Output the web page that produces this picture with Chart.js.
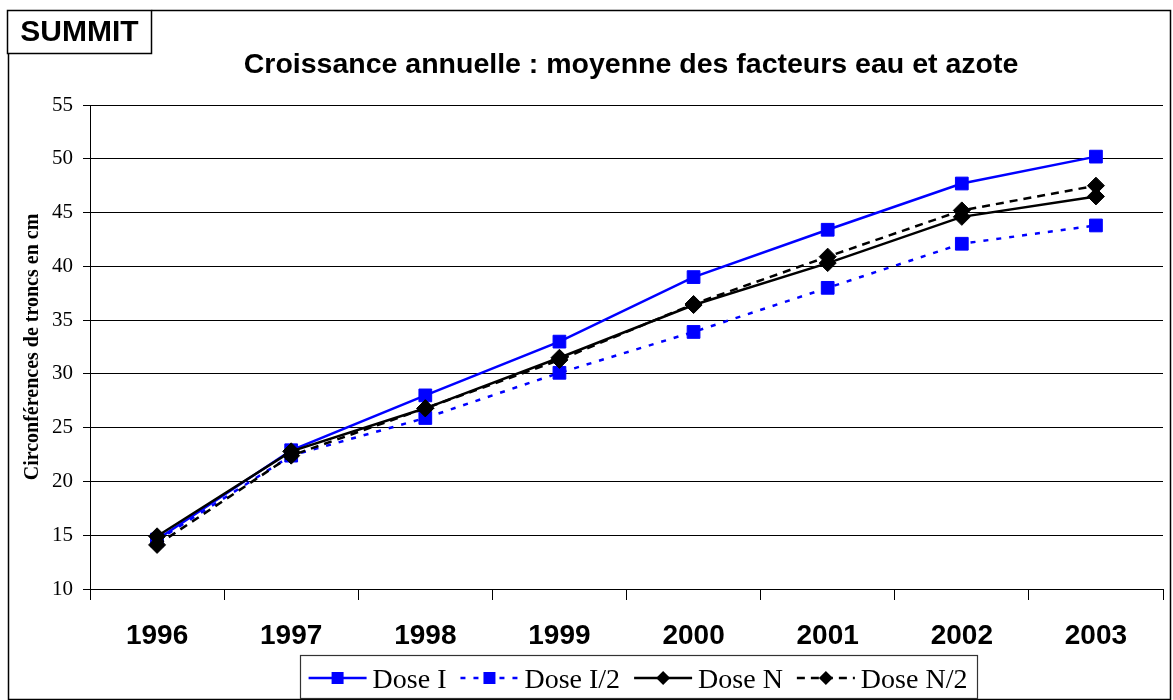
<!DOCTYPE html>
<html>
<head>
<meta charset="utf-8">
<script src="https://cdn.jsdelivr.net/npm/chart.js@4"></script>
<style>
  html,body{margin:0;padding:0;background:#fff;}
  #wrap{width:1173px;height:700px;position:relative;}
</style>
</head>
<body>
<div id="wrap"><canvas id="c" width="1173" height="700"></canvas></div>
<script>
const years = ['1996','1997','1998','1999','2000','2001','2002','2003'];
const doseI  = [14.6, 22.9, 28.0, 33.0, 39.0, 43.4, 47.7, 50.2];
const doseI2 = [14.5, 22.4, 25.9, 30.1, 33.9, 38.0, 42.1, 43.8];
const doseN  = [14.9, 22.8, 26.8, 31.5, 36.4, 40.3, 44.6, 46.5];
const doseN2 = [14.1, 22.4, 26.8, 31.3, 36.5, 40.9, 45.2, 47.5];
const seriesNames = ['Dose I','Dose I/2','Dose N','Dose N/2'];
const yMin = 10, yMax = 55, yStep = 5;

const BLUE = '#0000ff', BLACK = '#000000';
const SERIF = '"Liberation Serif","Times New Roman",serif';
const SANS = '"Liberation Sans",Arial,sans-serif';

function ds(label, data, color, dash, style, radius, order){
  return {
    label, data, order,
    borderColor: color, backgroundColor: color,
    borderWidth: 2.5, borderDash: dash,
    pointStyle: style, pointRadius: radius,
    pointBackgroundColor: color, pointBorderColor: color, pointBorderWidth: 1,
    tension: 0, fill: false
  };
}

// frame, SUMMIT box, title and legend
const decor = {
  id: 'decor',
  afterDraw(chart){
    const ctx = chart.ctx;
    ctx.save();
    ctx.strokeStyle = '#000';
    ctx.lineWidth = 1.5;
    ctx.beginPath();
    ctx.moveTo(151.5, 10.5); ctx.lineTo(1170.5, 10.5);
    ctx.lineTo(1170.5, 699.5); ctx.lineTo(8.5, 699.5); ctx.lineTo(8.5, 53.5);
    ctx.stroke();
    ctx.fillStyle = '#fff';
    ctx.fillRect(7.5, 10.5, 144, 43);
    ctx.strokeRect(7.5, 10.5, 144, 43);
    ctx.fillStyle = '#000';
    ctx.font = 'bold 30px ' + SANS;
    ctx.textAlign = 'center';
    ctx.textBaseline = 'middle';
    ctx.fillText('SUMMIT', 79.5, 33);

    ctx.font = 'bold 28.5px ' + SANS;
    ctx.fillText('Croissance annuelle : moyenne des facteurs eau et azote', 631, 65);

    // legend
    const sets = chart.data.datasets;
    ctx.font = '28px ' + SERIF;
    const lineLen = 58, gapA = 6, gapB = 14, pad = 9;
    let total = 0;
    sets.forEach((d,i) => { total += lineLen + gapA + ctx.measureText(d.label).width + (i < sets.length-1 ? gapB : 0); });
    const boxL = 638 - total/2 - pad, boxR = 638 + total/2 + pad;
    ctx.lineWidth = 1.2;
    ctx.strokeStyle = '#333';
    ctx.strokeRect(Math.round(boxL)+0.5, 655.5, Math.round(boxR-boxL), 43);
    let x = boxL + pad;
    const cy = 678;
    sets.forEach(d => {
      ctx.strokeStyle = d.borderColor;
      ctx.lineWidth = 2.5;
      ctx.setLineDash(d.borderDash || []);
      ctx.beginPath(); ctx.moveTo(x, cy); ctx.lineTo(x+lineLen, cy); ctx.stroke();
      ctx.setLineDash([]);
      const mx = x + lineLen/2;
      ctx.fillStyle = d.borderColor;
      ctx.beginPath();
      if (d.pointStyle === 'rect') {
        ctx.rect(mx-6, cy-6, 12, 12);
      } else {
        ctx.moveTo(mx-7, cy); ctx.lineTo(mx, cy-7); ctx.lineTo(mx+7, cy); ctx.lineTo(mx, cy+7); ctx.closePath();
      }
      ctx.fill();
      ctx.fillStyle = '#000';
      ctx.textAlign = 'left';
      ctx.textBaseline = 'alphabetic';
      const tx = x + lineLen + gapA;
      ctx.fillText(d.label, tx, 688);
      x = tx + ctx.measureText(d.label).width + gapB;
    });
    ctx.restore();
  }
};

new Chart(document.getElementById('c'), {
  type: 'line',
  data: {
    labels: years,
    datasets: [
      ds(seriesNames[0], doseI,  BLUE,  [],    'rect',    9,   2),
      ds(seriesNames[1], doseI2, BLUE,  [5,8], 'rect',    9,   3),
      ds(seriesNames[2], doseN,  BLACK, [],    'rectRot', 8.5, 0),
      ds(seriesNames[3], doseN2, BLACK, [8,6], 'rectRot', 8.5, 1)
    ]
  },
  options: {
    responsive: false,
    animation: false,
    events: [],
    layout: { padding: { left: 0, right: 5, top: 105, bottom: 0 } },
    plugins: { legend: { display: false }, title: { display: false }, tooltip: { enabled: false } },
    scales: {
      x: {
        offset: true,
        afterFit: s => { s.height = 111; },
        grid: { offset: true, drawOnChartArea: false, drawTicks: true, tickLength: 11, color: '#000', lineWidth: 1 },
        border: { color: '#000', width: 1 },
        ticks: { color: '#000', padding: 19, maxRotation: 0, font: { family: SANS, size: 28, weight: 'bold' } }
      },
      y: {
        min: yMin, max: yMax,
        afterFit: s => { s.width = 90; },
        grid: { color: '#000', lineWidth: 1, tickLength: 7 },
        border: { color: '#000', width: 1 },
        ticks: { stepSize: yStep, color: '#000', padding: 10, font: { family: SERIF, size: 21 } },
        title: {
          display: true, text: 'Circonférences de troncs en cm', color: '#000',
          padding: { top: 21, bottom: 0 },
          font: { family: SERIF, size: 20, weight: 'bold' }
        }
      }
    }
  },
  plugins: [decor]
});
</script>
</body>
</html>
